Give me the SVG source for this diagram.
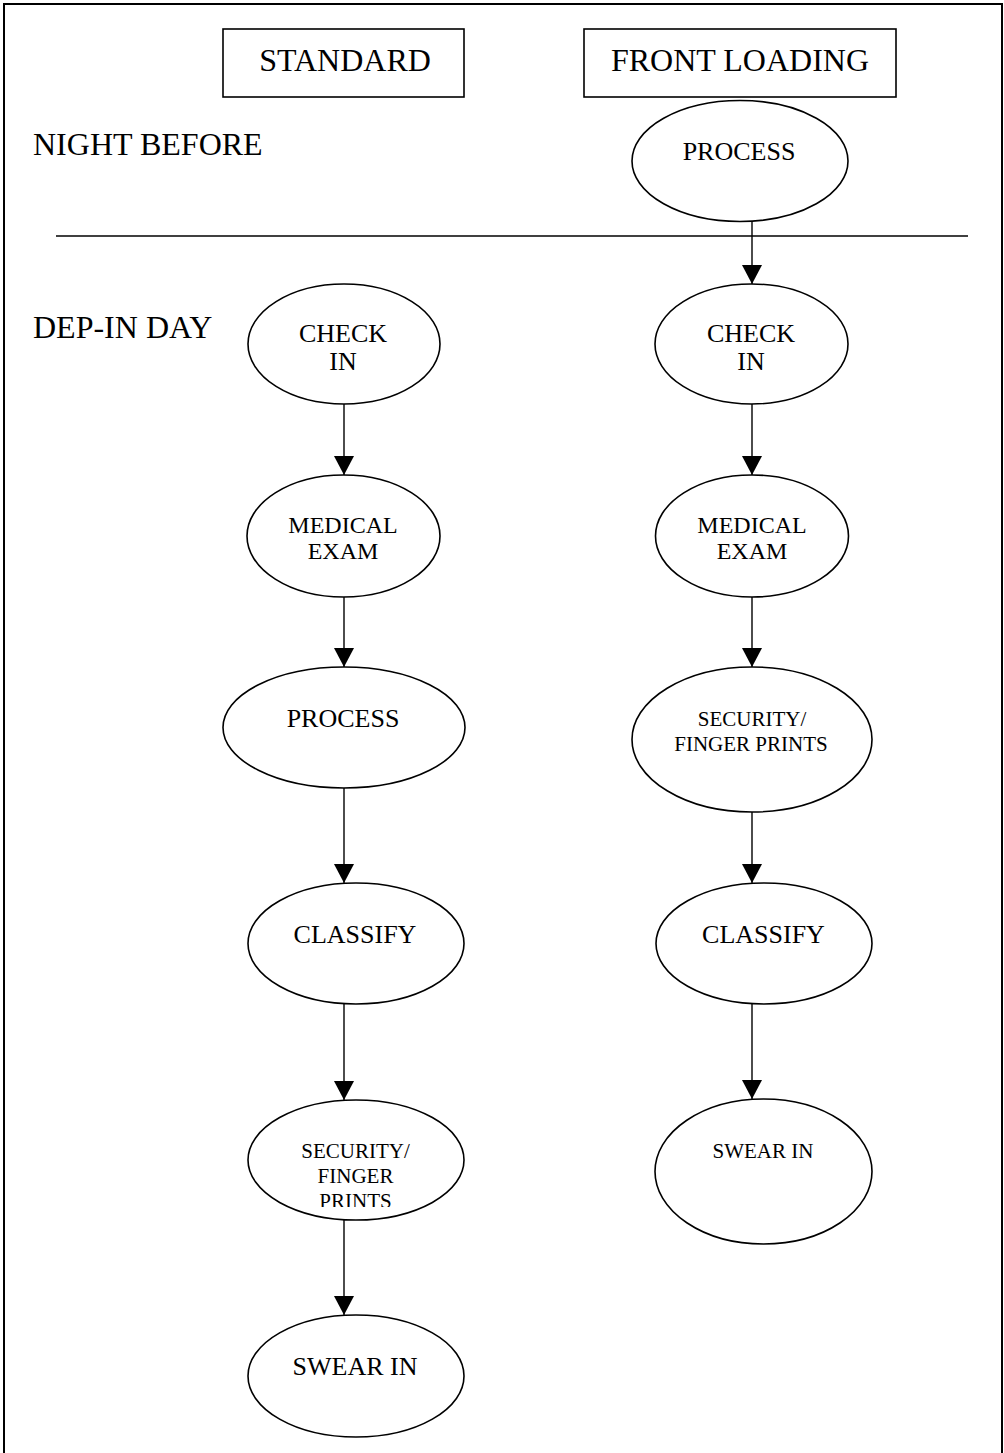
<svg xmlns="http://www.w3.org/2000/svg" width="1004" height="1453" viewBox="0 0 1004 1453">
<defs>
<style>
.t{font-family:"Liberation Serif","Times New Roman",serif;fill:#000;text-anchor:middle}
.l{font-family:"Liberation Serif","Times New Roman",serif;fill:#000}
.n{fill:#fff;stroke:#000;stroke-width:1.6}
.c{stroke:#000;stroke-width:1.4;fill:none}
</style>
<marker id="ah" markerUnits="userSpaceOnUse" markerWidth="20" markerHeight="20" refX="19" refY="10" orient="auto">
<path d="M0,0 L19,10 L0,20 Z" fill="#000"/>
</marker>
<clipPath id="clipPrints"><rect x="240" y="1100" width="240" height="107"/></clipPath>
</defs>
<rect x="0" y="0" width="1004" height="1453" fill="#fff"/>
<rect x="4" y="4" width="998" height="1470" fill="none" stroke="#000" stroke-width="2"/>

<g id="labels">
<text class="l" x="33" y="155" font-size="32">NIGHT BEFORE</text>
<text class="l" x="33" y="338" font-size="32">DEP-IN DAY</text>
<line x1="56" y1="236" x2="968" y2="236" stroke="#000" stroke-width="1.6"/>
</g>

<g id="hdr-standard">
<rect x="223" y="29" width="241" height="68" fill="#fff" stroke="#000" stroke-width="1.6"/>
<text class="t" x="345" y="71" font-size="32">STANDARD</text>
</g>
<g id="hdr-front">
<rect x="584" y="29" width="312" height="68" fill="#fff" stroke="#000" stroke-width="1.6"/>
<text class="t" x="740" y="71" font-size="32">FRONT LOADING</text>
</g>

<g id="connectors">
<line class="c" x1="752" y1="222" x2="752" y2="284" marker-end="url(#ah)"/>
<line class="c" x1="344" y1="404" x2="344" y2="475" marker-end="url(#ah)"/>
<line class="c" x1="344" y1="597" x2="344" y2="667" marker-end="url(#ah)"/>
<line class="c" x1="344" y1="788" x2="344" y2="883" marker-end="url(#ah)"/>
<line class="c" x1="344" y1="1004" x2="344" y2="1100" marker-end="url(#ah)"/>
<line class="c" x1="344" y1="1220" x2="344" y2="1315" marker-end="url(#ah)"/>
<line class="c" x1="752" y1="404" x2="752" y2="475" marker-end="url(#ah)"/>
<line class="c" x1="752" y1="597" x2="752" y2="667" marker-end="url(#ah)"/>
<line class="c" x1="752" y1="812" x2="752" y2="883" marker-end="url(#ah)"/>
<line class="c" x1="752" y1="1004" x2="752" y2="1099" marker-end="url(#ah)"/>
</g>

<g id="fl-process">
<ellipse class="n" cx="740" cy="161" rx="108" ry="60.5"/>
<text class="t" x="739" y="160" font-size="26">PROCESS</text>
</g>

<g id="st-checkin">
<ellipse class="n" cx="344" cy="344" rx="96" ry="60"/>
<text class="t" x="343" y="342" font-size="26">CHECK</text>
<text class="t" x="343" y="370" font-size="26">IN</text>
</g>
<g id="st-medical">
<ellipse class="n" cx="343.5" cy="536" rx="96.5" ry="61"/>
<text class="t" x="343" y="533" font-size="24">MEDICAL</text>
<text class="t" x="343" y="559" font-size="24">EXAM</text>
</g>
<g id="st-process">
<ellipse class="n" cx="344" cy="727.5" rx="121" ry="60.5"/>
<text class="t" x="343" y="727" font-size="26">PROCESS</text>
</g>
<g id="st-classify">
<ellipse class="n" cx="356" cy="943.5" rx="108" ry="60.5"/>
<text class="t" x="355" y="943" font-size="26">CLASSIFY</text>
</g>
<g id="st-security">
<ellipse class="n" cx="356" cy="1160" rx="108" ry="60"/>
<text class="t" x="355.5" y="1158" font-size="21">SECURITY/</text>
<text class="t" x="355.5" y="1183" font-size="21">FINGER</text>
<text class="t" x="355.5" y="1208" font-size="21" clip-path="url(#clipPrints)">PRINTS</text>
</g>
<g id="st-swear">
<ellipse class="n" cx="356" cy="1376" rx="108" ry="61"/>
<text class="t" x="355" y="1375" font-size="26">SWEAR IN</text>
</g>

<g id="fl-checkin">
<ellipse class="n" cx="751.5" cy="344" rx="96.5" ry="60"/>
<text class="t" x="751" y="342" font-size="26">CHECK</text>
<text class="t" x="751" y="370" font-size="26">IN</text>
</g>
<g id="fl-medical">
<ellipse class="n" cx="752" cy="536" rx="96.5" ry="61"/>
<text class="t" x="752" y="533" font-size="24">MEDICAL</text>
<text class="t" x="752" y="559" font-size="24">EXAM</text>
</g>
<g id="fl-security">
<ellipse class="n" cx="752" cy="739.5" rx="120" ry="72.5"/>
<text class="t" x="752" y="726" font-size="21">SECURITY/</text>
<text class="t" x="751" y="751" font-size="21">FINGER PRINTS</text>
</g>
<g id="fl-classify">
<ellipse class="n" cx="764" cy="943.5" rx="108" ry="60.5"/>
<text class="t" x="763.5" y="943" font-size="26">CLASSIFY</text>
</g>
<g id="fl-swear">
<ellipse class="n" cx="763.5" cy="1171.5" rx="108.5" ry="72.5"/>
<text class="t" x="763" y="1158" font-size="21">SWEAR IN</text>
</g>
</svg>
